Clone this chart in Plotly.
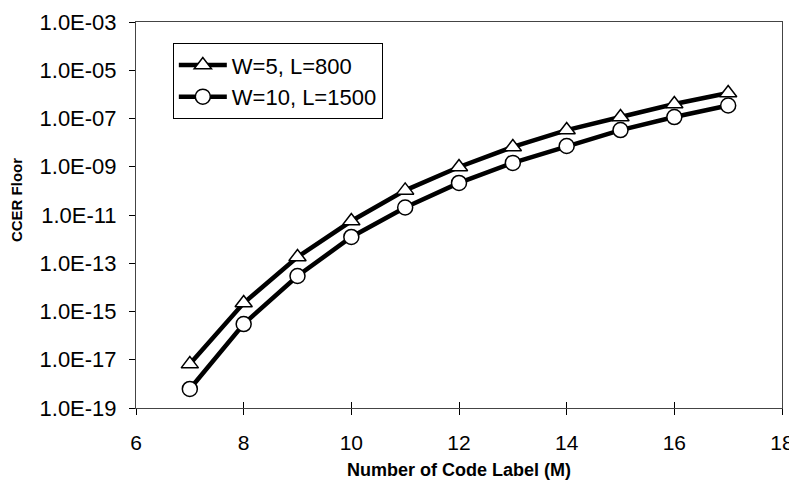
import plotly.graph_objects as go

m_values = [7, 8, 9, 10, 11, 12, 13, 14, 15, 16, 17]
log_w5 = [-17.18, -14.65, -12.74, -11.25, -9.98, -9.01, -8.18, -7.48, -6.94, -6.40, -5.94]
log_w10 = [-18.21, -15.52, -13.53, -11.91, -10.69, -9.67, -8.84, -8.14, -7.48, -6.94, -6.46]
w5 = [10 ** v for v in log_w5]
w10 = [10 ** v for v in log_w10]

y_tick_vals = [1e-19, 1e-17, 1e-15, 1e-13, 1e-11, 1e-9, 1e-7, 1e-5, 1e-3]
y_tick_text = ["1.0E-19", "1.0E-17", "1.0E-15", "1.0E-13", "1.0E-11",
               "1.0E-09", "1.0E-07", "1.0E-05", "1.0E-03"]
x_tick_vals = [6, 8, 10, 12, 14, 16, 18]

font = "Liberation Sans, Arial, sans-serif"

fig = go.Figure()
fig.add_trace(go.Scatter(
    x=m_values, y=w5, name="W=5, L=800", mode="lines+markers",
    line=dict(color="black", width=4.5),
    marker=dict(symbol="triangle-up", size=15, color="white",
                line=dict(color="black", width=1.5)),
))
fig.add_trace(go.Scatter(
    x=m_values, y=w10, name="W=10, L=1500", mode="lines+markers",
    line=dict(color="black", width=4.5),
    marker=dict(symbol="circle", size=15, color="white",
                line=dict(color="black", width=1.5)),
))
# invisible trace carrying the inside tick marks of the x axis
fig.add_trace(go.Scatter(x=[6, 18], y=[1e-19, 1e-19], xaxis="x2", mode="markers",
                         marker=dict(opacity=0), showlegend=False, hoverinfo="skip"))

fig.update_layout(
    width=789, height=479,
    margin=dict(l=128, r=15, t=14, b=79),
    paper_bgcolor="white", plot_bgcolor="white",
    font=dict(family=font, color="black", size=20),
    showlegend=True,
    legend=dict(x=0.057, y=0.945, xanchor="left", yanchor="top",
                bgcolor="white", bordercolor="black", borderwidth=1,
                font=dict(size=22, family=font), itemwidth=48,
                tracegroupgap=0),
    xaxis=dict(range=[6, 18], tickvals=x_tick_vals, ticks="outside", ticklen=6,
               tickcolor="black", showline=True, linecolor="#444", linewidth=1,
               mirror=True, showgrid=False, zeroline=False, automargin=False,
               ticklabelstandoff=10, tickfont=dict(size=21)),
    xaxis2=dict(range=[6, 18], overlaying="x", side="bottom", tickvals=x_tick_vals,
                ticks="inside", ticklen=6, tickcolor="black", showticklabels=False,
                showgrid=False, zeroline=False, showline=False, automargin=False),
    yaxis=dict(type="log", range=[-19, -3], tickvals=y_tick_vals, ticktext=y_tick_text,
               ticks="outside", ticklen=6, tickcolor="black", showline=True,
               linecolor="#444", linewidth=1, mirror=True, showgrid=False,
               zeroline=False, automargin=False, ticklabelstandoff=8,
               tickfont=dict(size=22)),
    annotations=[
        dict(text="<b>Number of Code Label (M)</b>", xref="paper", yref="paper",
             x=0.5, y=-0.161, xanchor="center", yanchor="middle", showarrow=False,
             font=dict(size=18, family=font)),
        dict(text="<b>CCER Floor</b>", xref="paper", yref="paper",
             x=-0.184, y=0.539, xanchor="center", yanchor="middle", showarrow=False,
             textangle=-90, font=dict(size=15, family=font)),
    ],
)

fig.write_html("out.html")
